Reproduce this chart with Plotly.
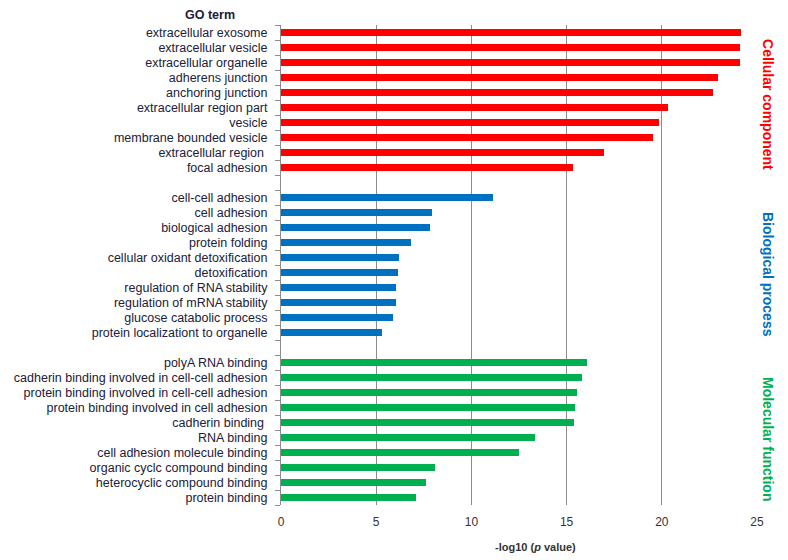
import plotly.graph_objects as go

cc_terms = ["extracellular exosome", "extracellular vesicle", "extracellular organelle",
            "adherens junction", "anchoring junction", "extracellular region part",
            "vesicle", "membrane bounded vesicle", "extracellular region ", "focal adhesion"]
cc_values = [24.17, 24.12, 24.12, 22.94, 22.70, 20.33, 19.86, 19.53, 16.99, 15.32]

bp_terms = ["cell-cell adhesion", "cell adhesion", "biological adhesion", "protein folding",
            "cellular oxidant detoxification", "detoxification", "regulation of RNA stability",
            "regulation of mRNA stability", "glucose catabolic process",
            "protein localizationt to organelle"]
bp_values = [11.11, 7.91, 7.85, 6.84, 6.19, 6.13, 6.03, 6.03, 5.87, 5.33]

mf_terms = ["polyA RNA binding", "cadherin binding involved in cell-cell adhesion",
            "protein binding involved in cell-cell adhesion",
            "protein binding involved in cell adhesion", "cadherin binding ", "RNA binding",
            "cell adhesion molecule binding", "organic cyclc compound binding",
            "heterocyclic compound binding", "protein binding"]
mf_values = [16.07, 15.83, 15.53, 15.42, 15.37, 13.34, 12.50, 8.10, 7.64, 7.08]

group_names = ["Cellular component", "Biological process", "Molecular function"]
group_colors = ["#FF0000", "#0070C0", "#00B050"]
x_ticks = [0, 5, 10, 15, 20, 25]

groups = [(cc_terms, cc_values), (bp_terms, bp_values), (mf_terms, mf_values)]

fig = go.Figure()
all_pos, all_labels = [], []
start = 0
group_centers = []
for (terms, vals), name, col in zip(groups, group_names, group_colors):
    pos = list(range(start, start + len(terms)))
    all_pos += pos
    all_labels += terms
    group_centers.append((pos[0] + pos[-1]) / 2)
    fig.add_trace(go.Bar(x=vals, y=pos, orientation="h", marker=dict(color=col, line=dict(width=0)),
                         width=0.45, name=name, showlegend=False))
    start += len(terms) + 1
n_rows = start - 1

# invisible trace for the tick-mark axis
fig.add_trace(go.Scatter(x=[None], y=[None], yaxis="y2", showlegend=False))

font_family = "Liberation Sans, Arial, sans-serif"
fig.update_layout(
    width=788, height=560,
    margin=dict(l=273, r=39, t=17, b=63, autoexpand=False),
    plot_bgcolor="white", paper_bgcolor="white",
    bargap=0,
    font=dict(family=font_family, size=12, color="#20203a"),
    xaxis=dict(range=[0, 25], tickvals=x_ticks, showgrid=True, gridcolor="#8c8c8c", gridwidth=1,
               zeroline=False, showline=False, ticks="", ticklabelstandoff=8,
               tickfont=dict(size=12, color="#333333")),
    yaxis=dict(range=[n_rows - 0.5, -0.5], tickvals=all_pos, ticktext=all_labels,
               showgrid=False, zeroline=False, showline=True, linecolor="#8c8c8c", linewidth=1,
               ticks="", tickfont=dict(size=12.5, color="#20203a"), ticklabelstandoff=10),
    yaxis2=dict(range=[n_rows - 0.5, -0.5], overlaying="y", side="left",
                tickvals=[p + 0.5 for p in range(-1, n_rows)], showticklabels=False,
                ticks="outside", ticklen=5, tickcolor="#8c8c8c", showgrid=False,
                zeroline=False, showline=False),
)

fig.add_annotation(text="<b>-log10 (<i>p</i> value)</b>", xref="paper", yref="paper", x=0.5, y=0,
                   xanchor="center", yanchor="middle", xshift=16, yshift=-42,
                   showarrow=False, font=dict(size=11, color="#333333"))

fig.add_annotation(text="<b>GO term</b>", xref="paper", yref="paper", x=0, y=1,
                   xanchor="center", yanchor="middle", xshift=-71, yshift=10,
                   showarrow=False, font=dict(size=12.5, color="#20203a"))

offsets = [0.27, 0.6, 0.6]
for c, name, col, off in zip(group_centers, group_names, group_colors, offsets):
    fig.add_annotation(text=f"<b>{name}</b>", xref="paper", yref="y", x=1, y=c + off,
                       xanchor="center", yanchor="middle", xshift=11, showarrow=False,
                       textangle=90, font=dict(size=14, color=col))

fig.write_html("out.html")
